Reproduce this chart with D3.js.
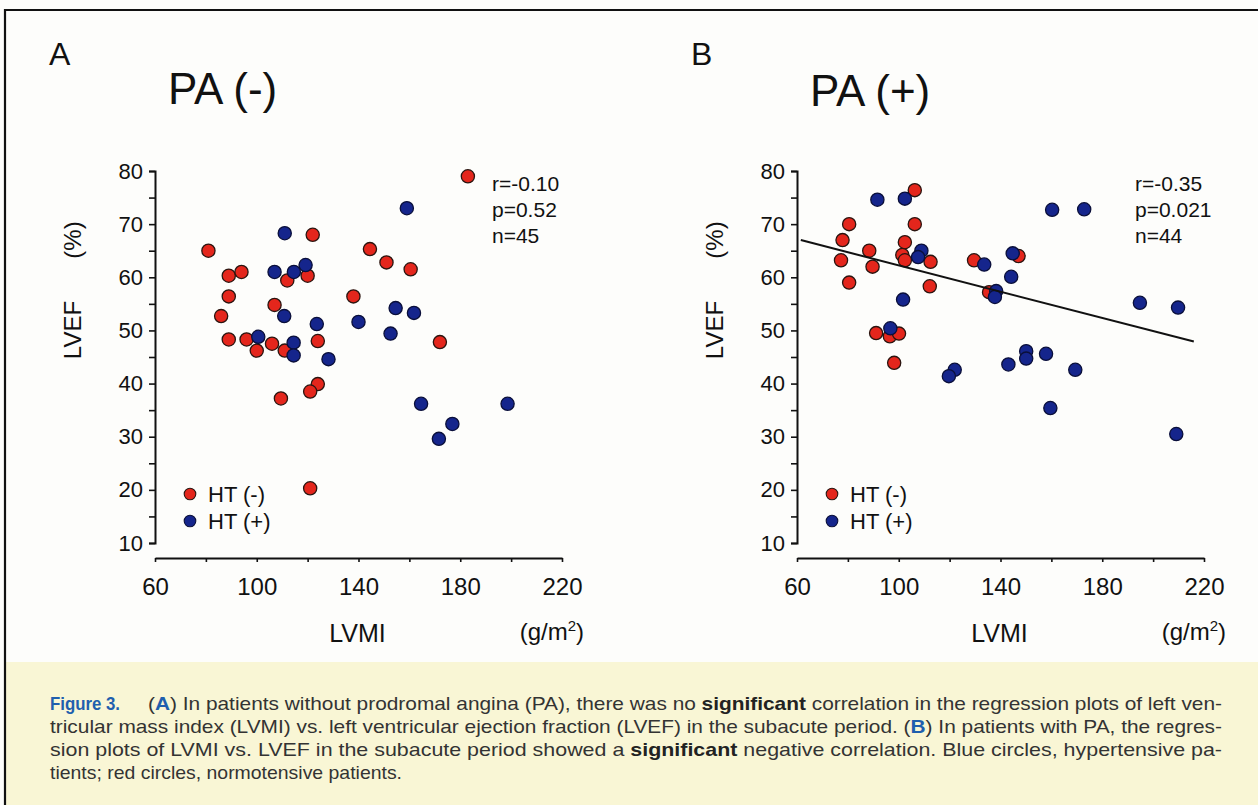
<!DOCTYPE html>
<html><head><meta charset="utf-8">
<script src="https://cdn.jsdelivr.net/npm/d3@7/dist/d3.min.js"></script>
<style>
html,body{margin:0;padding:0;background:#fff;}
svg{display:block;}
text{font-family:"Liberation Sans",Arial,Helvetica,sans-serif;fill:#111;}
.cap{font-family:"Liberation Sans",Arial,sans-serif;fill:#333;font-size:19px;}
</style></head>
<body>
<svg id="chart" width="1258" height="805"></svg>
<script>
// ---------- data ----------
const xTicks = [60, 80, 100, 120, 140, 160, 180, 200, 220];
const xTickLabels = [60, 100, 140, 180, 220];
const yTicks = [10, 15, 20, 25, 30, 35, 40, 45, 50, 55, 60, 65, 70, 75, 80];
const yTickLabels = [10, 20, 30, 40, 50, 60, 70, 80];
const legendLabels = ["HT (-)", "HT (+)"];
const panelTitles = ["PA (-)", "PA (+)"];
const panelLetters = ["A", "B"];
const statsA = ["r=-0.10", "p=0.52", "n=45"];
const statsB = ["r=-0.35", "p=0.021", "n=44"];

// Panel A: [LVMI, LVEF]
const redA = [[81,65],[122,68],[89,60.3],[94,61],[112,59.4],[120,60.3],[89,56.4],[138,56.4],[86,52.7],[107,54.8],
  [89,48.3],[96,48.3],[100,46.2],[106,47.5],[111,46.2],[124,48],[124,39.9],[121,38.5],[109.5,37.2],[121,20.3],
  [183,79],[144.5,65.3],[151,62.8],[160.5,61.5],[172,47.8]];
const blueA = [[111,68.3],[107,61],[114.6,61],[119.2,62.3],[110.8,52.7],[123.6,51.2],[140,51.6],[100.6,48.8],
  [114.5,47.7],[114.5,45.3],[128.2,44.6],[159,73],[154.6,54.2],[161.8,53.3],[152.6,49.4],[164.6,36.2],
  [198.6,36.2],[176.9,32.4],[171.6,29.6]];
// Panel B
const redB = [[106.3,76.4],[80.5,70],[106.3,70],[77.9,67],[102.4,66.6],[88.4,65],[101.4,64.2],[77.3,63.2],
  [102.4,63.2],[112.5,62.9],[89.7,62],[129.6,63.2],[80.5,59],[112.2,58.3],[135.5,57.2],[91.1,49.5],[96.5,48.9],
  [100.1,49.4],[98.2,43.9],[147.1,64]];
const blueB = [[91.6,74.6],[102.4,74.8],[108.9,65],[107.6,63.8],[133.6,62.4],[138.3,57.4],[137.8,56.3],
  [101.7,55.8],[96.7,50.4],[122,42.6],[119.7,41.4],[160.3,72.7],[172.9,72.8],[144.8,64.5],[144.2,60.1],
  [194.8,55.2],[209.8,54.3],[150.1,46.1],[150.1,44.7],[157.9,45.6],[143.1,43.6],[169.4,42.6],[159.6,35.4],[209.1,30.5]];
const regLineB = [[61.5, 67.0], [216, 47.9]];

const captionLines = [
  "(A) In patients without prodromal angina (PA), there was no significant correlation in the regression plots of left ven-",
  "tricular mass index (LVMI) vs. left ventricular ejection fraction (LVEF) in the subacute period. (B) In patients with PA, the regres-",
  "sion plots of LVMI vs. LVEF in the subacute period showed a significant negative correlation. Blue circles, hypertensive pa-",
  "tients; red circles, normotensive patients."
];

// ---------- drawing ----------
const RED = "#e4261c", BLUE = "#15258c", STROKE = "#2a1510";
const svg = d3.select("#chart");

// backgrounds
svg.append("rect").attr("x",0).attr("y",0).attr("width",1258).attr("height",805).attr("fill","#fdfdfb");
svg.append("rect").attr("x",5).attr("y",662).attr("width",1253).attr("height",143).attr("fill","#f9f6d5");
// frame
svg.append("path").attr("d","M5,805 V10 H1258").attr("fill","none").attr("stroke","#111").attr("stroke-width",2.2);

function panel(cfg) {
  const x = d3.scaleLinear().domain([60, 220]).range([cfg.x0, cfg.x0 + 407]);
  const y = d3.scaleLinear().domain([10, 80]).range([543, 171]);
  const g = svg.append("g");

  // letter and title
  g.append("text").attr("x", cfg.x0 - 106).attr("y", 65).attr("font-size", 32).text(cfg.letter);
  g.append("text").attr("x", cfg.x0 + 13).attr("y", cfg.titleY).attr("font-size", 44).text(cfg.title);

  // y axis
  const ya = d3.axisLeft(y).tickValues(yTicks).tickSize(6).tickSizeOuter(6).tickPadding(6)
    .tickFormat(d => yTickLabels.includes(d) ? d : "");
  const yg = g.append("g").attr("transform", `translate(${cfg.x0},0)`).call(ya);
  yg.select(".domain").attr("stroke", "#111").attr("stroke-width", 2);
  yg.selectAll(".tick line").attr("stroke", "#111").attr("stroke-width", 1.6);
  yg.selectAll(".tick text").attr("font-size", 22).attr("fill", "#111")
    .attr("font-family", "'Liberation Sans',Arial,sans-serif");

  // x axis
  const xa = d3.axisBottom(x).tickValues(xTicks).tickSize(4).tickSizeOuter(0).tickPadding(16)
    .tickFormat(d => xTickLabels.includes(d) ? d : "");
  const xg = g.append("g").attr("transform", `translate(0,558)`).call(xa);
  xg.select(".domain").attr("stroke", "#111").attr("stroke-width", 2);
  xg.selectAll(".tick line").attr("stroke", "#111").attr("stroke-width", 1.6);
  xg.selectAll(".tick text").attr("font-size", 24).attr("fill", "#111")
    .attr("font-family", "'Liberation Sans',Arial,sans-serif");

  // axis titles
  g.append("text").attr("x", x(140) - 1).attr("y", 642).attr("text-anchor", "middle").attr("font-size", 25).text("LVMI");
  const unit = g.append("text").attr("x", x(216)).attr("y", 640).attr("text-anchor", "middle").attr("font-size", 24);
  unit.append("tspan").text("(g/m");
  unit.append("tspan").attr("font-size", 15).attr("dy", -9).text("2");
  unit.append("tspan").attr("dy", 9).text(")");
  g.append("text").attr("transform", `translate(${cfg.x0 - 74},330) rotate(-90)`).attr("text-anchor", "middle")
    .attr("font-size", 24).text("LVEF");
  g.append("text").attr("transform", `translate(${cfg.x0 - 74},240) rotate(-90)`).attr("text-anchor", "middle")
    .attr("font-size", 24).text("(%)");

  // stats
  g.selectAll("text.stat").data(cfg.stats).enter().append("text").attr("class", "stat")
    .attr("x", cfg.statX).attr("y", (d, i) => 191 + i * 26).attr("font-size", 21).text(d => d);

  // points
  const pts = g.append("g");
  pts.selectAll("circle.r").data(cfg.red).enter().append("circle").attr("class", "r")
    .attr("cx", d => x(d[0])).attr("cy", d => y(d[1])).attr("r", 6.6)
    .attr("fill", RED).attr("stroke", STROKE).attr("stroke-width", 1.3);
  pts.selectAll("circle.b").data(cfg.blue).enter().append("circle").attr("class", "b")
    .attr("cx", d => x(d[0])).attr("cy", d => y(d[1])).attr("r", 6.6)
    .attr("fill", BLUE).attr("stroke", "#0a0f3a").attr("stroke-width", 1.3);

  if (cfg.line) {
    g.append("path").datum(cfg.line)
      .attr("d", d3.line().x(d => x(d[0])).y(d => y(d[1])))
      .attr("stroke", "#111").attr("stroke-width", 2).attr("fill", "none");
  }

  // legend
  const lg = g.append("g");
  [RED, BLUE].forEach((c, i) => {
    lg.append("circle").attr("cx", cfg.x0 + 35).attr("cy", 494 + i * 27).attr("r", 5.8)
      .attr("fill", c).attr("stroke", i ? "#0a0f3a" : STROKE).attr("stroke-width", 1.1);
    lg.append("text").attr("x", cfg.x0 + 53).attr("y", 502 + i * 27).attr("font-size", 22).text(legendLabels[i]);
  });
}

panel({x0: 155, letter: panelLetters[0], title: panelTitles[0], titleY: 104, stats: statsA, statX: 492, red: redA, blue: blueA});
panel({x0: 797, letter: panelLetters[1], title: panelTitles[1], titleY: 106, stats: statsB, statX: 1135, red: redB, blue: blueB, line: regLineB});

// caption
const capX = 50, capRight = 1222, capY = [710, 733, 756, 779];
svg.append("text").attr("x", capX).attr("y", capY[0]).attr("class", "cap")
  .attr("font-weight", "bold").style("fill", "#1f5fae")
  .attr("textLength", 70).attr("lengthAdjust", "spacingAndGlyphs").text("Figure 3.");

function capLine(str, x, yy, width) {
  const t = svg.append("text").attr("class", "cap").attr("x", x).attr("y", yy);
  const re = /(\(A\)|\(B\)|significant)/g;
  let last = 0, m;
  while ((m = re.exec(str)) !== null) {
    if (m.index > last) t.append("tspan").text(str.slice(last, m.index));
    const s = m[0];
    if (s === "significant") {
      t.append("tspan").attr("font-weight", "bold").style("fill", "#222").text(s);
    } else {
      t.append("tspan").text("(");
      t.append("tspan").attr("font-weight", "bold").style("fill", "#1f5fae").text(s[1]);
      t.append("tspan").text(")");
    }
    last = m.index + s.length;
  }
  if (last < str.length) t.append("tspan").text(str.slice(last));
  t.attr("textLength", width).attr("lengthAdjust", "spacingAndGlyphs");
}
capLine(captionLines[0], 148, capY[0], capRight - 148);
capLine(captionLines[1], capX, capY[1], capRight - capX);
capLine(captionLines[2], capX, capY[2], capRight - capX);
capLine(captionLines[3], capX, capY[3], 352);
</script>
</body></html>
